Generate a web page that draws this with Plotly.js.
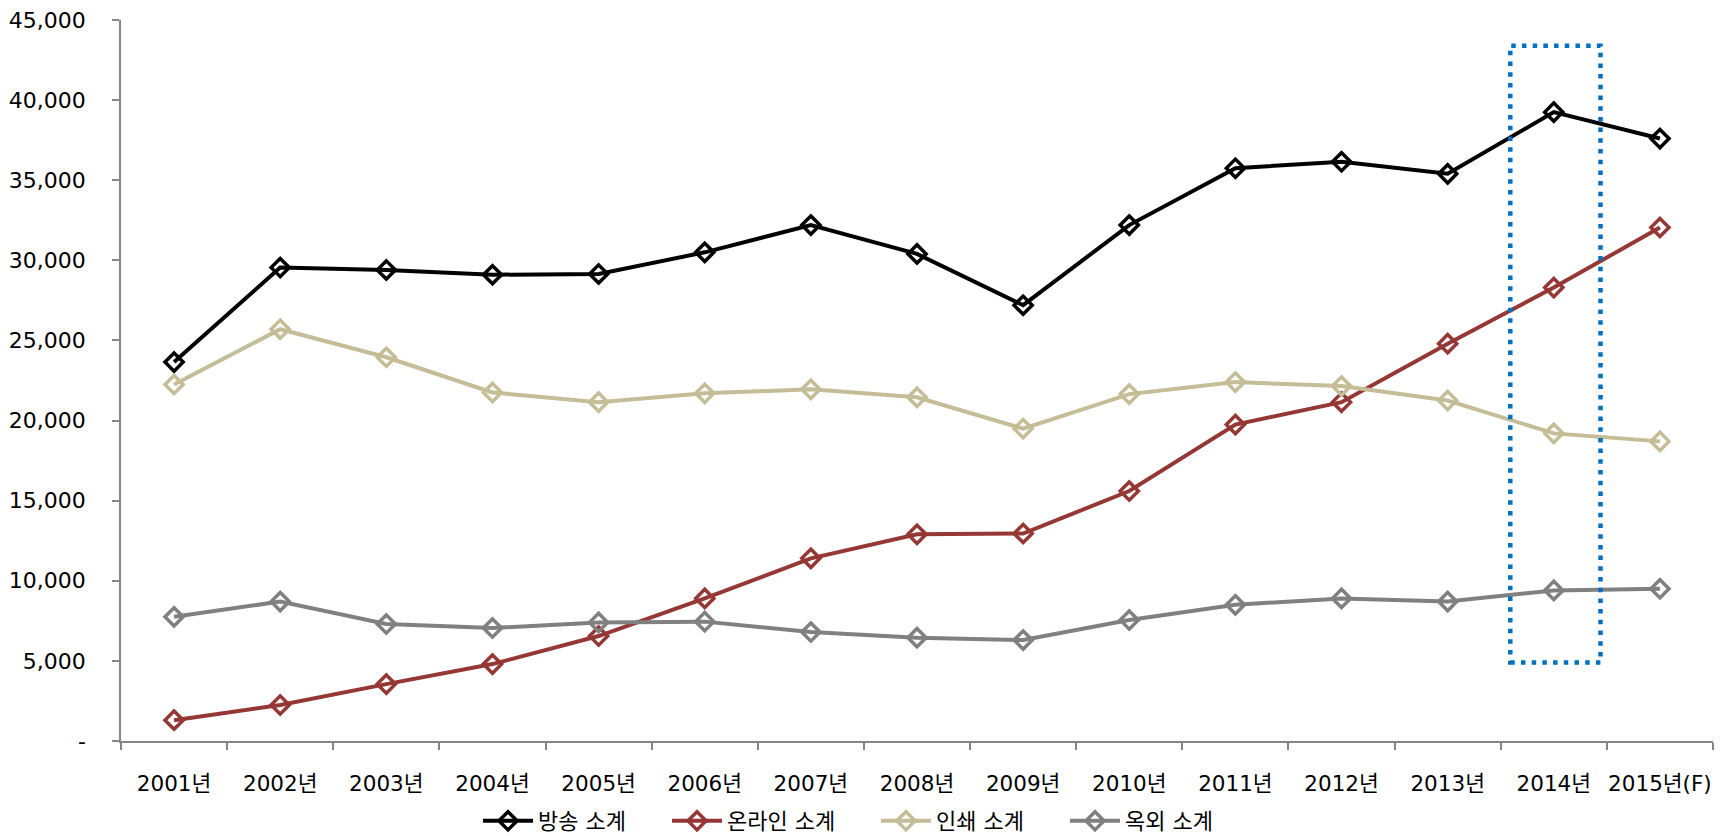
<!DOCTYPE html>
<html>
<head>
<meta charset="utf-8">
<script src="https://cdn.plot.ly/plotly-3.0.1.min.js"></script>
<style>
  html, body { margin: 0; padding: 0; background: #ffffff; }
  #chart { width: 1728px; height: 836px; }
</style>
</head>
<body>
<div id="chart"></div>
<script>
// ---- data ----
const categories = ['2001년','2002년','2003년','2004년','2005년','2006년','2007년','2008년','2009년','2010년','2011년','2012년','2013년','2014년','2015년(F)'];
const seriesNames = ['방송 소계','온라인 소계','인쇄 소계','옥외 소계'];
const broadcast = [23650, 29550, 29400, 29100, 29150, 30500, 32200, 30400, 27200, 32200, 35750, 36150, 35400, 39250, 37600];
const online    = [1300, 2250, 3550, 4800, 6550, 8900, 11400, 12900, 12950, 15600, 19750, 21150, 24800, 28300, 32050];
const print     = [22250, 25700, 23950, 21750, 21150, 21700, 21950, 21450, 19500, 21650, 22400, 22150, 21250, 19200, 18700];
const outdoor   = [7750, 8700, 7300, 7050, 7400, 7450, 6800, 6450, 6300, 7550, 8500, 8900, 8700, 9400, 9500];
const yTickVals = [0, 5000, 10000, 15000, 20000, 25000, 30000, 35000, 40000, 45000];
const yTickText = ['-', '5,000', '10,000', '15,000', '20,000', '25,000', '30,000', '35,000', '40,000', '45,000'];

// ---- styles ----
const colors = ['#000000', '#953735', '#C4BD97', '#808080'];
const legendIds = ['legend', 'legend2', 'legend3', 'legend4'];
const FONT = 'DejaVu Sans, Noto Sans CJK KR, sans-serif';
const values = [broadcast, online, print, outdoor];

const traces = values.map((v, i) => ({
  type: 'scatter',
  mode: 'lines+markers',
  x: categories,
  y: v,
  name: seriesNames[i],
  legend: legendIds[i],
  line: { color: colors[i], width: 4 },
  marker: { symbol: 'diamond-open', size: 14, color: colors[i], line: { color: colors[i], width: 3.5 } },
  hoverinfo: 'x+y+name'
}));

const legendStarts = [478, 667, 876, 1065];
const legendBase = {
  orientation: 'h', xref: 'container', yref: 'container',
  y: 1 - 821 / 836, yanchor: 'middle', xanchor: 'left',
  bgcolor: 'rgba(0,0,0,0)', borderwidth: 0, itemwidth: 50,
  font: { family: FONT, size: 22, color: '#000000' }
};

const layout = {
  width: 1728, height: 836,
  margin: { l: 121, r: 15, t: 20, b: 95 },
  paper_bgcolor: '#ffffff', plot_bgcolor: '#ffffff',
  font: { family: FONT, size: 22, color: '#000000' },
  showlegend: true,
  xaxis: {
    type: 'category',
    range: [-0.5, categories.length - 0.5],
    tickson: 'boundaries',
    tickangle: 0,
    ticks: 'outside', ticklen: 7, tickwidth: 1.5, tickcolor: '#868686',
    showline: true, linecolor: '#868686', linewidth: 1.5,
    showgrid: false, zeroline: false,
    ticklabelstandoff: 22,
    tickfont: { family: FONT, size: 21.5, color: '#000000' }
  },
  yaxis: {
    range: [0, 45000],
    tickmode: 'array', tickvals: yTickVals, ticktext: yTickText,
    ticks: 'outside', ticklen: 7, tickwidth: 1.5, tickcolor: '#868686',
    showline: true, linecolor: '#868686', linewidth: 1.5,
    showgrid: false, zeroline: false,
    ticklabelstandoff: 22,
    tickfont: { family: FONT, size: 22, color: '#000000' }
  },
  shapes: [{
    type: 'rect', xref: 'x', yref: 'y',
    x0: 12.59, x1: 13.44, y0: 4900, y1: 43400,
    line: { color: '#0070C0', width: 4.5, dash: '4.5px,6.2px' },
    fillcolor: 'rgba(0,0,0,0)'
  }]
};
legendIds.forEach((id, i) => {
  layout[id] = Object.assign({}, legendBase, { x: legendStarts[i] / 1728 });
});

Plotly.newPlot('chart', traces, layout, { displayModeBar: false, responsive: false });
</script>
</body>
</html>
